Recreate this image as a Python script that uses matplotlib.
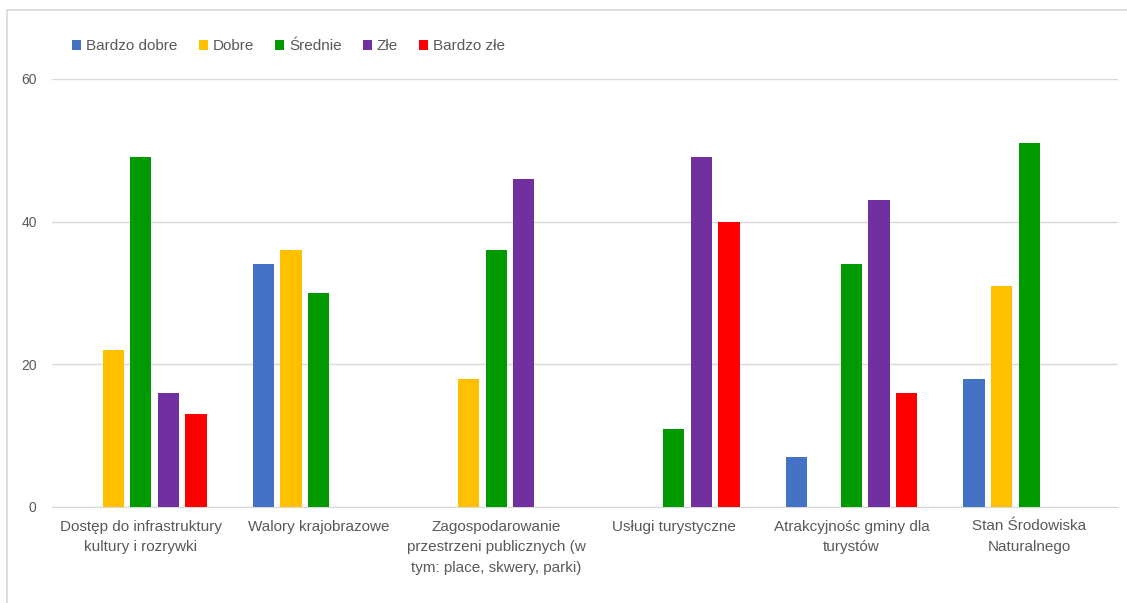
import matplotlib
matplotlib.use("Agg")
import matplotlib.pyplot as plt
import numpy as np
from matplotlib.lines import Line2D

categories = [
    "Dostęp do infrastruktury\nkultury i rozrywki",
    "Walory krajobrazowe",
    "Zagospodarowanie\nprzestrzeni publicznych (w\ntym: place, skwery, parki)",
    "Usługi turystyczne",
    "Atrakcyjnośc gminy dla\nturystów",
    "Stan Środowiska\nNaturalnego",
]
series_names = ["Bardzo dobre", "Dobre", "Średnie", "Złe", "Bardzo złe"]
bardzo_dobre = [0, 34, 0, 0, 7, 18]
dobre = [22, 36, 18, 0, 0, 31]
srednie = [49, 30, 36, 11, 34, 51]
zle = [16, 0, 46, 49, 43, 0]
bardzo_zle = [13, 0, 0, 40, 16, 0]
yticks = [0, 20, 40, 60]

series = [bardzo_dobre, dobre, srednie, zle, bardzo_zle]
colors = ["#4472C4", "#FFC000", "#009900", "#7030A0", "#FF0000"]

plt.rcParams['font.family'] = ['Liberation Sans', 'DejaVu Sans']
txt = "#595959"

fig = plt.figure(figsize=(11.27, 6.03), dpi=100)
ax = fig.add_axes([52/1127, 1-507/603, (1118-52)/1127, (507-79)/603])

x = np.arange(len(categories))
step = 0.155
width = 0.12
for i, (vals, c, name) in enumerate(zip(series, colors, series_names)):
    ax.bar(x + (i-2)*step, vals, width, color=c, label=name, zorder=3)

ax.set_xlim(-0.5, len(categories)-0.5)
ax.set_ylim(0, 60)
ax.set_yticks(yticks)
ax.yaxis.grid(True, color="#D9D9D9", linewidth=1, zorder=0)
for s in ["top", "right", "left"]:
    ax.spines[s].set_visible(False)
ax.spines["bottom"].set_color("#D9D9D9")
ax.tick_params(axis="y", length=0, pad=11, labelsize=10, labelcolor=txt)
ax.tick_params(axis="x", length=0, pad=9, labelsize=11, labelcolor=txt)
ax.set_xticks(x)
ax.set_xticklabels(categories, linespacing=1.6)

fig.legend(loc="upper left", bbox_to_anchor=(66/1127, 1-33/603), ncol=5, frameon=False,
           fontsize=11, labelcolor=txt, handlelength=0.6, handleheight=0.6,
           handletextpad=0.3, columnspacing=1.4, borderaxespad=0)

fig.add_artist(Line2D([7/1127, 1], [1-10/603, 1-10/603], color="#D9D9D9", lw=1.2, transform=fig.transFigure))
fig.add_artist(Line2D([7/1127, 7/1127], [0, 1-10/603], color="#D9D9D9", lw=1.2, transform=fig.transFigure))

fig.savefig("out.png", dpi=100)
